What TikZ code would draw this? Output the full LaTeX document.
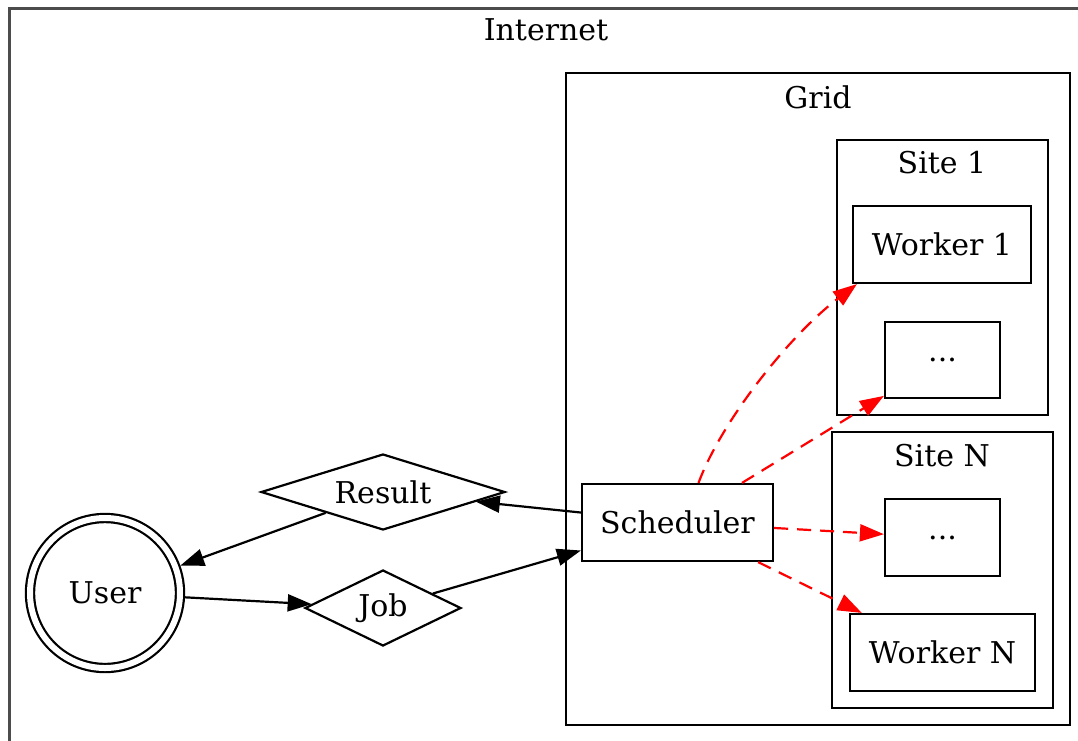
\documentclass[tikz,border=0pt]{standalone}
\usepackage{fontspec}
\setmainfont{DejaVu Serif}
\usetikzlibrary{shapes.geometric,arrows.meta}
\begin{document}
\begin{tikzpicture}[x=1pt,y=-1pt,
  every node/.style={font=\fontsize{30}{36}\selectfont},
  box/.style={draw, line width=2.2pt, rectangle, inner sep=0pt},
  cluster/.style={draw, line width=2.4pt},
  dia/.style={draw, line width=2.2pt, diamond, aspect=3.2, inner sep=0pt},
  edge/.style={line width=2.2pt, -{Triangle[length=24pt,width=17pt]}},
  redge/.style={edge, red, dash pattern=on 14pt off 9pt}]
\useasboundingbox (0,0) rectangle (1078,740);
% Internet cluster
\draw[line width=3pt, draw=black!70] (9,760) -- (9,8) -- (1100,8);
\node (tInternet) at (546,30) {Internet};
% Grid cluster
\draw[cluster] (566,73) rectangle (1070,725);
\node (tGrid) at (818,97) {Grid};
% Site 1
\draw[cluster] (837,140) rectangle (1048,415);
\node (tSite1) at (942,163) {Site 1};
% Site N
\draw[cluster] (832,432) rectangle (1053,708);
\node (tSiteN) at (942,456) {Site N};
% nodes
\node[box, minimum width=178pt, minimum height=77pt] (w1) at (942,244.5) {Worker 1};
\node[box, minimum width=115pt, minimum height=76pt] (d1) at (942.5,360) {...};
\node[box, minimum width=115pt, minimum height=77pt] (dN) at (942.5,537.5) {...};
\node[box, minimum width=185pt, minimum height=77pt] (wN) at (942.5,652.5) {Worker N};
\node[box, minimum width=191pt, minimum height=77pt] (sched) at (677.5,522.5) {Scheduler};
\node[dia, minimum width=244pt, minimum height=76pt] (result) at (383,492) {Result};
\node[dia, minimum width=156pt, minimum height=76pt] (job) at (383,608) {Job};
\node[draw, circle, line width=2.2pt, double=white, double distance=6pt,
      minimum size=150pt, inner sep=0pt, outer sep=5pt] (user) at (105,593) {User};
% edges
\draw[edge] (user) -- (job);
\draw[edge] (job) -- (sched);
\draw[edge] (sched) -- (result);
\draw[edge] (result) -- (user);
\draw[redge] ([xshift=21pt]sched.north) .. controls (722,420) and (790,335) .. ([xshift=5pt]w1.south west);
\draw[redge] (sched) -- (d1);
\draw[redge] (sched) -- (dN);
\draw[redge] (sched) -- (wN);
\end{tikzpicture}
\end{document}
